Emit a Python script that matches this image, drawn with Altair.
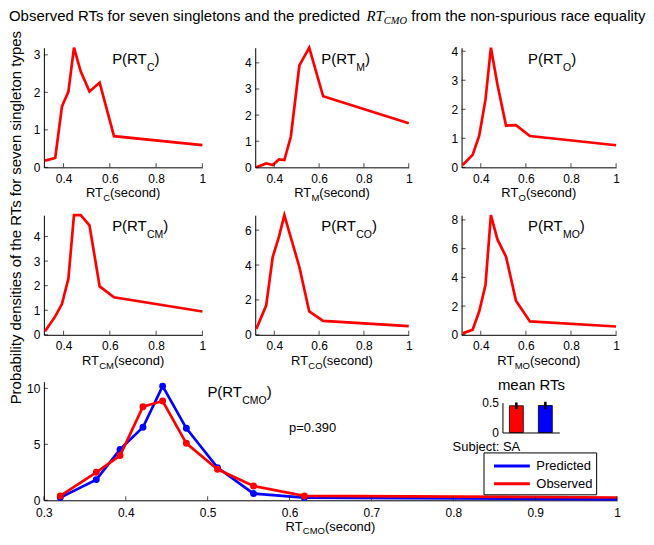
import altair as alt
import pandas as pd

RED = "#ff0000"
BLUE = "#0000ff"
FONT = "Liberation Sans"
SERIF = "Liberation Serif"

# ---------------- data ----------------
rt_x = [0.320, 0.364, 0.393, 0.421, 0.445, 0.474, 0.512, 0.556, 0.618, 1.000]

dens_C = [0.18, 0.25, 1.62, 2.02, 3.19, 2.56, 2.02, 2.26, 0.83, 0.59]
dens_M = [0.00, 0.15, 0.09, 0.30, 0.28, 1.18, 3.90, 4.58, 2.72, 1.69]
dens_O = [0.08, 0.43, 1.08, 2.33, 4.12, 2.85, 1.44, 1.45, 1.08, 0.76]
dens_CM = [0.14, 0.75, 1.25, 2.29, 4.87, 4.87, 4.46, 1.97, 1.53, 0.95]
dens_CO = [0.34, 1.69, 4.46, 5.63, 6.86, 5.57, 3.89, 1.34, 0.80, 0.50]
dens_MO = [0.10, 0.35, 1.62, 3.47, 8.33, 6.64, 5.44, 2.38, 0.93, 0.58]

cmo_pred = [0.24, 1.85, 4.55, 6.52, 10.20, 6.43, 2.92, 0.60, 0.24, 0.08]
cmo_obs = [0.39, 2.50, 4.00, 8.36, 8.87, 5.09, 2.77, 1.28, 0.39, 0.25]
series_names = ["Predicted", "Observed"]

inset_cond = ["Observed", "Predicted"]
inset_mean = [0.447, 0.452]
inset_err = [0.055, 0.062]
inset_yticks = [0, 0.5]

small_xticks = [0.4, 0.6, 0.8, 1.0]
bottom_xticks = [0.3, 0.4, 0.5, 0.6, 0.7, 0.8, 0.9, 1.0]
bottom_yticks = [0, 5, 10]
yticks_C = [0, 1, 2, 3]
yticks_M = [0, 1, 2, 3, 4]
yticks_O = [0, 1, 2, 3, 4]
yticks_CM = [0, 1, 2, 3, 4]
yticks_CO = [0, 2, 4, 6]
yticks_MO = [0, 2, 4, 6, 8]

title_parts = ["Observed RTs for seven singletons and the predicted", "RT", "CMO",
               "from the non-spurious race equality"]
y_title = "Probability densities of the RTs for seven singleton types"
p_text = "p=0.390"
subject_text = "Subject: SA"
inset_title = "mean RTs"

# ---------------- layout (pixels, plot-area coordinates) ----------------
COL_X = [0, 212, 419]
COL_W = [159, 154, 155]
ROW_Y = [0, 168, 335]
SMALL_H = 120
TOT_W = 575
TOT_H = 454
XMIN = 0.315
TICK_FMT = "~r"

# ---------------- text width helpers (Arial metrics) ----------------
AW = {' ': 278, '(': 333, ')': 333, '.': 278, '=': 584, ':': 278, '-': 333,
      'A': 667, 'C': 722, 'M': 833, 'O': 778, 'P': 667, 'R': 722, 'S': 667, 'T': 611,
      'a': 556, 'b': 556, 'c': 500, 'd': 556, 'e': 556, 'f': 278, 'g': 556, 'h': 556,
      'i': 222, 'j': 222, 'k': 500, 'l': 222, 'm': 833, 'n': 556, 'o': 556, 'p': 556,
      'q': 556, 'r': 333, 's': 500, 't': 278, 'u': 556, 'v': 500, 'w': 722, 'x': 500,
      'y': 500, 'z': 500}
TIW = {'R': 611, 'T': 556, 'C': 667, 'M': 833, 'O': 722}


def tw(s, size, table=AW):
    return sum(table.get(c, 556) for c in s) * size / 1000.0


def txt(s, x, y, size, font=FONT, italic=False, align="left", angle=0):
    return alt.Chart(pd.DataFrame({"s": [s]})).mark_text(
        align=align, baseline="alphabetic", font=font, fontSize=size,
        fontStyle="italic" if italic else "normal", color="black", angle=angle
    ).encode(x=alt.value(x), y=alt.value(y), text="s:N")


def sub_text(main, sub, tail, x, y, size, subsize, suboff, center=False):
    total = tw(main, size) + tw(sub, subsize) + tw(tail, size)
    x0 = x - total / 2 if center else x
    x1 = x0 + tw(main, size)
    x2 = x1 + tw(sub, subsize)
    return [txt(main, x0, y, size), txt(sub, x1, y + suboff, subsize), txt(tail, x2, y, size)]


def axis(**kw):
    return alt.Axis(title=None, grid=False, ticks=False, labelFontSize=12, labelFont=FONT,
                    labelColor="black", domainColor="black", domainWidth=1,
                    labelFlush=False, labelOverlap=False, **kw)


def inward_ticks(xt, yt, xs, ys, xa, ya, xmin):
    dfx = pd.DataFrame({"t": xt, "z": [0] * len(xt)})
    tx = alt.Chart(dfx).mark_tick(orient="vertical", size=4, thickness=1, color="black",
                                  yOffset=-2).encode(
        x=alt.X("t:Q", scale=xs, axis=xa), y=alt.Y("z:Q", scale=ys, axis=ya))
    dfy = pd.DataFrame({"t": yt, "z": [xmin] * len(yt)})
    ty = alt.Chart(dfy).mark_tick(orient="horizontal", size=4, thickness=1, color="black",
                                  xOffset=2).encode(
        x=alt.X("z:Q", scale=xs, axis=xa), y=alt.Y("t:Q", scale=ys, axis=ya))
    return [tx, ty]


text_layers = []


def small_panel(sub, vals, yticks, col, row):
    x0, w, y0, h = COL_X[col], COL_W[col], ROW_Y[row], SMALL_H
    xs = alt.Scale(domain=[XMIN, 1.0], range=[x0, x0 + w], nice=False, zero=False)
    ys = alt.Scale(domain=[0, max(vals)], range=[y0 + h, y0], nice=False, zero=True)
    xa = axis(values=small_xticks, format=TICK_FMT, labelPadding=6,
              orient="bottom", offset=(y0 + h) - TOT_H)
    ya = axis(values=yticks, format=TICK_FMT, labelPadding=4, orient="left", offset=-x0)
    df = pd.DataFrame({"rt": rt_x, "density": vals})
    line = alt.Chart(df).mark_line(color=RED, strokeWidth=2.7).encode(
        x=alt.X("rt:Q", scale=xs, axis=xa), y=alt.Y("density:Q", scale=ys, axis=ya))
    px = x0 + (0.61 - XMIN) / (1.0 - XMIN) * w
    text_layers.extend(sub_text("P(RT", sub, ")", px, y0 + 16, 15, 10.5, 7))
    text_layers.extend(sub_text("RT", sub, "(second)", x0 + w / 2, y0 + 150, 13, 9.5, 4,
                                center=True))
    return alt.layer(line, *inward_ticks(small_xticks, yticks, xs, ys, xa, ya, XMIN))


panels = [
    small_panel("C", dens_C, yticks_C, 0, 0),
    small_panel("M", dens_M, yticks_M, 1, 0),
    small_panel("O", dens_O, yticks_O, 2, 0),
    small_panel("CM", dens_CM, yticks_CM, 0, 1),
    small_panel("CO", dens_CO, yticks_CO, 1, 1),
    small_panel("MO", dens_MO, yticks_MO, 2, 1),
]

# ---------------- bottom panel ----------------
B0 = ROW_Y[2]
bxs = alt.Scale(domain=[0.3, 1.0], range=[0, TOT_W], nice=False, zero=False)
bys = alt.Scale(domain=[0, 10.6], range=[TOT_H, B0], nice=False, zero=True)
bxa = axis(values=bottom_xticks, format=TICK_FMT, labelPadding=7, orient="bottom", offset=0)
bya = axis(values=bottom_yticks, format=TICK_FMT, labelPadding=4, orient="left", offset=0)

n = len(rt_x)
df_cmo = pd.DataFrame({
    "rt": rt_x + rt_x,
    "density": cmo_pred + cmo_obs,
    "series": [series_names[0]] * n + [series_names[1]] * n,
})
legend = alt.Legend(title=None, orient="none", legendX=441, legendY=B0 + 71,
                    strokeColor="black", fillColor="white", padding=3,
                    symbolType="M-2,0H2", symbolSize=324, symbolStrokeWidth=3,
                    symbolOffset=15, labelOffset=14, labelFontSize=13, labelFont=FONT,
                    labelColor="black", rowPadding=0, cornerRadius=0)
color = alt.Color("series:N", scale=alt.Scale(domain=series_names, range=[BLUE, RED]),
                  legend=legend)


def series_layers(name, col):
    base = alt.Chart(df_cmo).transform_filter(alt.datum.series == name)
    line = base.mark_line(strokeWidth=2.7).encode(
        x=alt.X("rt:Q", scale=bxs, axis=bxa), y=alt.Y("density:Q", scale=bys, axis=bya),
        color=color)
    pts = base.transform_filter(alt.datum.rt < 1).mark_circle(size=48, color=col, opacity=1).encode(
        x=alt.X("rt:Q", scale=bxs, axis=bxa), y=alt.Y("density:Q", scale=bys, axis=bya))
    return [line, pts]


main_layers = series_layers(series_names[0], BLUE) + series_layers(series_names[1], RED)
main_layers += inward_ticks(bottom_xticks, bottom_yticks, bxs, bys, bxa, bya, 0.3)
bottom_group = alt.layer(*main_layers)
text_layers.extend(sub_text("P(RT", "CMO", ")", 164, B0 + 15, 15, 10.5, 7))
text_layers.extend(sub_text("RT", "CMO", "(second)", TOT_W / 2, B0 + 149.8, 13, 9.5, 3,
                            center=True))
text_layers += [txt(p_text, 246, B0 + 51, 13), txt(subject_text, 410, B0 + 70, 13)]

# inset of mean RTs
inset_df = pd.DataFrame({
    "cond": inset_cond,
    "mean": inset_mean,
    "lo": [m - e for m, e in zip(inset_mean, inset_err)],
    "hi": [m + e for m, e in zip(inset_mean, inset_err)],
})
I_BOT, I_TOP, I_L, I_R = B0 + 51, B0 + 21, 460, 517
ixs = alt.Scale(domain=inset_cond, range=[I_L, I_R], paddingInner=0.52, paddingOuter=0.24)
iys = alt.Scale(domain=[0, 0.5], range=[I_BOT, I_TOP], nice=False, zero=True)
ixa = axis(orient="bottom", offset=I_BOT - TOT_H, labels=False)
iya = axis(orient="left", offset=-I_L, values=inset_yticks, format=TICK_FMT, labelPadding=4)
bars = alt.Chart(inset_df).mark_bar(stroke="black", strokeWidth=0.8).encode(
    x=alt.X("cond:N", scale=ixs, axis=ixa),
    y=alt.Y("mean:Q", scale=iys, axis=iya),
    fill=alt.Fill("cond:N", scale=alt.Scale(domain=inset_cond, range=[RED, BLUE]), legend=None))
errs = alt.Chart(inset_df).mark_rule(color="black", strokeWidth=2.5).encode(
    x=alt.X("cond:N", scale=ixs, axis=ixa),
    y=alt.Y("lo:Q", scale=iys, axis=iya), y2="hi:Q")
inset_group = alt.layer(bars, errs)
text_layers.append(txt(inset_title, 489, B0 + 8, 15, align="center"))

# main title and y-axis title
t0, t_y = -35, -27
x_rt = t0 + tw(title_parts[0] + " ", 15)
x_cmo = x_rt + tw(title_parts[1], 15, TIW)
x_from = x_cmo + tw(title_parts[2], 10.5, TIW) + tw(" ", 15)
text_layers += [
    txt(title_parts[0], t0, t_y, 15),
    txt(title_parts[1], x_rt, t_y, 15, font=SERIF, italic=True),
    txt(title_parts[2], x_cmo, t_y + 3.5, 10.5, font=SERIF, italic=True),
    txt(title_parts[3], x_from, t_y, 15),
    txt(y_title, -23, 170.5, 15, align="center", angle=270),
]

chart = alt.layer(*panels, bottom_group, inset_group, *text_layers).resolve_scale(
    x="independent", y="independent"
).properties(width=TOT_W, height=TOT_H, padding=0).configure(
    font=FONT, background="white"
).configure_view(stroke=None).configure_axis(
    domainColor="black", domainWidth=1, labelColor="black", labelFont=FONT,
    labelFontSize=12, ticks=False, grid=False, labelFlush=False, labelOverlap=False
)

chart.save("out.html", embed_options={"renderer": "svg", "actions": False})
